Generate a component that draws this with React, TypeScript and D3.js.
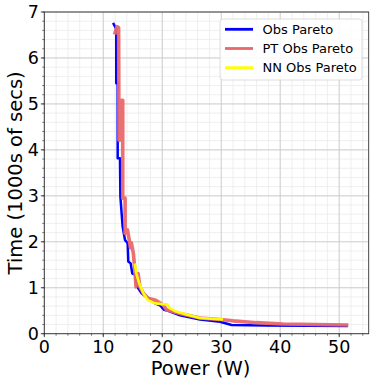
import React from 'react';
import * as d3 from 'd3';

// Obs Pareto (blue)
const obsPower = [11.76, 12.15, 12.2, 12.2, 12.44, 12.44, 12.83, 12.9, 13.28, 13.68, 14.13, 14.24, 14.64, 14.92, 15.37, 15.76, 16.5, 17.63, 18.76, 19.61, 20.29, 21.0, 23.0, 26.4, 29.8, 31.76, 37.7, 51.25];
const obsTime = [6.74, 6.64, 6.53, 5.45, 5.45, 3.82, 3.82, 2.98, 2.33, 2.04, 1.97, 1.57, 1.53, 1.31, 1.29, 1.02, 0.88, 0.77, 0.66, 0.62, 0.52, 0.5, 0.4, 0.31, 0.26, 0.19, 0.18, 0.17];

// PT Obs Pareto (red)
const ptPower = [12.0, 12.3, 12.6, 12.66, 12.85, 13.1, 13.3, 13.3, 13.7, 13.7, 14.1, 14.4, 14.6, 14.75, 15.1, 15.4, 15.55, 15.9, 16.2, 16.8, 17.6, 18.9, 20.2, 20.7, 23.0, 26.4, 29.8, 32.0, 36.0, 40.5, 51.25];
const ptTime = [6.55, 6.68, 6.66, 4.21, 4.21, 5.08, 5.08, 2.95, 2.95, 2.18, 2.26, 2.04, 1.87, 1.98, 1.75, 1.31, 1.02, 1.31, 1.02, 0.88, 0.77, 0.73, 0.62, 0.52, 0.44, 0.34, 0.31, 0.28, 0.24, 0.21, 0.19];

// NN Obs Pareto (yellow)
const nnPower = [15.37, 15.6, 16.1, 16.8, 17.6, 18.8, 20.2, 20.8, 21.3, 22.2, 24.1, 26.4, 30.1];
const nnTime = [1.5, 1.31, 1.09, 0.88, 0.73, 0.66, 0.64, 0.64, 0.55, 0.49, 0.42, 0.34, 0.31];

const xTicks = [0, 10, 20, 30, 40, 50];
const yTicks = [0, 1, 2, 3, 4, 5, 6, 7];

const seriesNames = ['Obs Pareto', 'PT Obs Pareto', 'NN Obs Pareto'];
const seriesColors = ['#0000ff', '#e8686b', '#ffff00'];

export default function App() {
  const width = 374;
  const height = 385;
  const margin = { top: 12, right: 5.3, bottom: 51.3, left: 44.3 };
  const innerW = width - margin.left - margin.right;
  const innerH = height - margin.top - margin.bottom;

  const x = d3.scaleLinear().domain([0, 55]).range([0, innerW]);
  const y = d3.scaleLinear().domain([0, 7]).range([innerH, 0]);

  const xMinor = d3.range(0, 55.01, 2);
  const yMinor = d3.range(0, 7.01, 0.2);

  const line = d3.line<[number, number]>().x(d => x(d[0])).y(d => y(d[1]));
  const zip = (a: number[], b: number[]) => a.map((v, i) => [v, b[i]] as [number, number]);

  const series = [
    { data: zip(obsPower, obsTime), width: 2.5, opacity: 1 },
    { data: zip(ptPower, ptTime), width: 3.6, opacity: 0.95 },
    { data: zip(nnPower, nnTime), width: 2.6, opacity: 1 },
  ];

  const font = 'DejaVu Sans, sans-serif';

  return (
    <svg width={width} height={height} style={{ position: 'absolute', left: 0, top: 0, background: '#fff' }} fontFamily={font}>
      <g transform={`translate(${margin.left},${margin.top})`}>
        {/* minor grid */}
        {xMinor.map(v => (
          <line key={'xm' + v} x1={x(v)} x2={x(v)} y1={0} y2={innerH} stroke="#ebebeb" strokeWidth={0.8} />
        ))}
        {yMinor.map(v => (
          <line key={'ym' + v} x1={0} x2={innerW} y1={y(v)} y2={y(v)} stroke="#ebebeb" strokeWidth={0.8} />
        ))}
        {/* major grid */}
        {xTicks.map(v => (
          <line key={'xg' + v} x1={x(v)} x2={x(v)} y1={0} y2={innerH} stroke="#c8c8c8" strokeWidth={0.8} />
        ))}
        {yTicks.map(v => (
          <line key={'yg' + v} x1={0} x2={innerW} y1={y(v)} y2={y(v)} stroke="#c8c8c8" strokeWidth={0.8} />
        ))}

        {/* lines */}
        {series.map((s, i) => (
          <path key={i} d={line(s.data) || ''} fill="none" stroke={seriesColors[i]} strokeWidth={s.width}
            strokeOpacity={s.opacity} strokeLinejoin="round" strokeLinecap="square" />
        ))}

        {/* frame */}
        <rect x={0} y={0} width={innerW} height={innerH} fill="none" stroke="#333" strokeWidth={0.9} />

        {/* x ticks */}
        {xMinor.map(v => (
          <line key={'xmt' + v} x1={x(v)} x2={x(v)} y1={innerH} y2={innerH + 2} stroke="#333" strokeWidth={0.7} />
        ))}
        {xTicks.map(v => (
          <g key={'xt' + v}>
            <line x1={x(v)} x2={x(v)} y1={innerH} y2={innerH + 3.5} stroke="#333" strokeWidth={0.9} />
            <text x={x(v)} y={innerH + 19.5} textAnchor="middle" fontSize={17.5} fill="#000">{v}</text>
          </g>
        ))}
        {/* y ticks */}
        {yMinor.map(v => (
          <line key={'ymt' + v} x1={-2} x2={0} y1={y(v)} y2={y(v)} stroke="#333" strokeWidth={0.7} />
        ))}
        {yTicks.map(v => (
          <g key={'yt' + v}>
            <line x1={-3.5} x2={0} y1={y(v)} y2={y(v)} stroke="#333" strokeWidth={0.9} />
            <text x={-5.5} y={y(v)} dy="0.36em" textAnchor="end" fontSize={17.5} fill="#000">{v}</text>
          </g>
        ))}

        {/* legend */}
        <g transform={`translate(${220 - margin.left},${19 - margin.top})`}>
          <rect x={0} y={0} width={142} height={61} rx={3} fill="#fff" fillOpacity={0.85} stroke="#d5d5d5" strokeWidth={0.8} />
          {seriesNames.map((name, i) => (
            <g key={name} transform={`translate(0,${10.3 + i * 19.2})`}>
              <line x1={5} x2={33} y1={0} y2={0} stroke={seriesColors[i]} strokeWidth={2.8} />
              <text x={42.5} y={0} dy="0.36em" fontSize={13} fill="#000">{name}</text>
            </g>
          ))}
        </g>
      </g>

      {/* axis labels */}
      <text x={margin.left + innerW / 2 - 6} y={375} textAnchor="middle" fontSize={19.5} fill="#000">Power (W)</text>
      <text transform={`translate(22,${margin.top + innerH / 2}) rotate(-90)`} textAnchor="middle" fontSize={19.5} fill="#000">Time (1000s of secs)</text>
    </svg>
  );
}
